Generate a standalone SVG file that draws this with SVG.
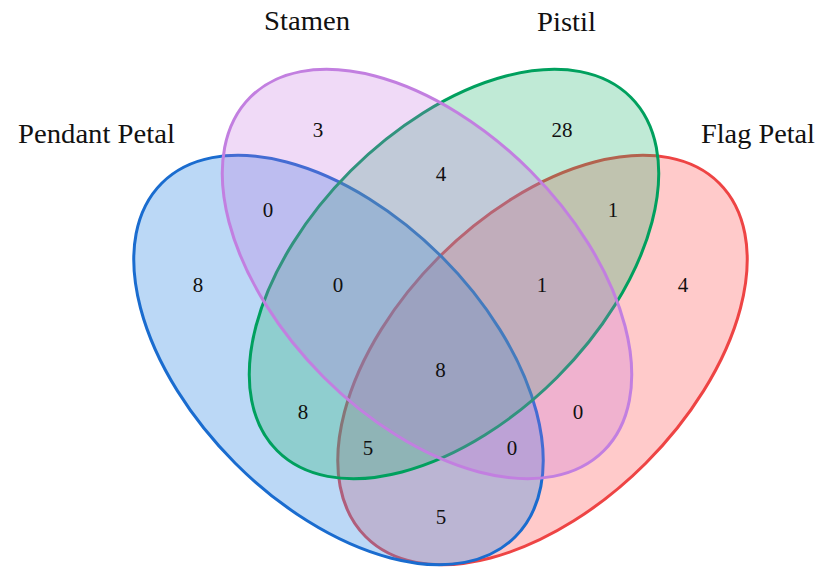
<svg xmlns="http://www.w3.org/2000/svg" width="821" height="567" viewBox="0 0 821 567">
<style>
.set{stroke-width:3}
.lbl{font-family:"Liberation Serif","Times New Roman",serif;font-size:27px;fill:#111}
.num{font-family:"Liberation Serif","Times New Roman",serif;font-size:21px;fill:#111;text-anchor:middle}
</style>
<rect width="821" height="567" fill="#fff"/>
<g id="flag-petal">
<ellipse class="set" cx="542.5" cy="360" rx="250" ry="146" transform="rotate(-45 542.5 360)" fill="#ff4040" fill-opacity="0.28" stroke="#ee4444"/>
<text class="lbl" x="701" y="143" textLength="114" lengthAdjust="spacingAndGlyphs">Flag Petal</text>
</g>
<g id="pendant-petal">
<ellipse class="set" cx="338.5" cy="360" rx="250" ry="146" transform="rotate(45 338.5 360)" fill="#3b8ee6" fill-opacity="0.35" stroke="#1a6ccf"/>
<text class="lbl" x="18" y="143" textLength="157" lengthAdjust="spacingAndGlyphs">Pendant Petal</text>
</g>
<g id="pistil">
<ellipse class="set" cx="454" cy="274" rx="250" ry="146" transform="rotate(-45 454 274)" fill="#1bb26a" fill-opacity="0.28" stroke="#00a05e"/>
<text class="lbl" x="537" y="31" textLength="59" lengthAdjust="spacingAndGlyphs">Pistil</text>
</g>
<g id="stamen">
<ellipse class="set" cx="427" cy="274" rx="250" ry="146" transform="rotate(45 427 274)" fill="#c36be0" fill-opacity="0.25" stroke="#c27fe0"/>
<text class="lbl" x="264" y="30" textLength="86" lengthAdjust="spacingAndGlyphs">Stamen</text>
</g>
<g id="connectors"></g>
<g id="counts">
<text class="num" x="318" y="137">3</text>
<text class="num" x="562" y="137">28</text>
<text class="num" x="441" y="181">4</text>
<text class="num" x="268" y="217">0</text>
<text class="num" x="613" y="217">1</text>
<text class="num" x="198" y="292">8</text>
<text class="num" x="338" y="292">0</text>
<text class="num" x="542" y="292">1</text>
<text class="num" x="683" y="292">4</text>
<text class="num" x="440.5" y="377">8</text>
<text class="num" x="303" y="419">8</text>
<text class="num" x="578" y="419">0</text>
<text class="num" x="368" y="455">5</text>
<text class="num" x="512" y="455">0</text>
<text class="num" x="441" y="524">5</text>
</g>
</svg>
